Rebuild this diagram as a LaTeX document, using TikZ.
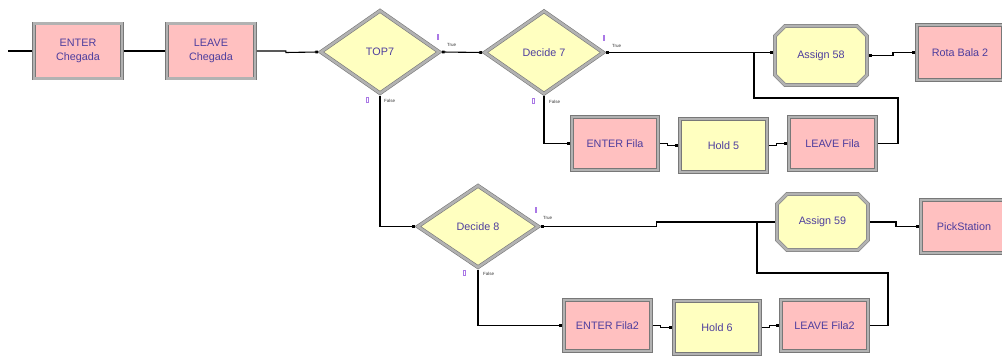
\documentclass[tikz,border=0pt]{standalone}
\usepackage{fontspec}
\setmainfont{Liberation Sans}
\usetikzlibrary{shapes.geometric,arrows.meta,calc,backgrounds}

\definecolor{modpink}{RGB}{255,192,192}
\definecolor{modyellow}{RGB}{255,255,192}
\definecolor{modtext}{RGB}{78,62,158}
\definecolor{frameband}{RGB}{178,178,178}
\definecolor{frameedge}{RGB}{120,120,120}
\definecolor{markcol}{RGB}{170,120,230}

\tikzset{
  modframe/.style={draw=frameedge, double=frameband, line width=0.6pt, double distance=2.6pt},
  modfont/.style={text=modtext, font=\fontsize{10.8}{14}\selectfont},
  module/.style={modframe, modfont, rectangle, inner sep=0pt, outer sep=1.9pt, align=center},
  pinkbox/.style={module, fill=modpink},
  yellowbox/.style={module, fill=modyellow},
  decide/.style={modframe, modfont, diamond, fill=modyellow, inner sep=0pt, outer sep=1.9pt},
  assign/.style={modfont, rectangle, inner sep=0pt, outer sep=0pt},
  link/.style={draw=black, line width=1.1pt, -{Square[length=2.8pt,width=2.8pt]}},
  dlink/.style={link, {Square[length=2.8pt,width=2.8pt]}-{Square[length=2.8pt,width=2.8pt]}},
  merge/.style={draw=black, line width=1.1pt},
  branchlbl/.style={font=\fontsize{4.5}{5}\selectfont, inner sep=0pt, text=black!80, anchor=west},
  portmark/.style={draw=markcol, line width=0.5pt, minimum width=1.6pt, minimum height=5pt, inner sep=0pt},
}

% octagonal frame of an Assign module, drawn behind its node
\newcommand\chamferframe[2]{%
  \begin{pgfonlayer}{background}
  \path[modframe, fill=#2]
    ($(#1.north west)+(12,2)$) -- ($(#1.north east)+(-12,2)$) --
    ($(#1.north east)+(-2,12)$) -- ($(#1.south east)+(-2,-12)$) --
    ($(#1.south east)+(-12,-2)$) -- ($(#1.south west)+(12,-2)$) --
    ($(#1.south west)+(2,-12)$) -- ($(#1.north west)+(2,12)$) -- cycle;
  \end{pgfonlayer}}

\begin{document}
\begin{tikzpicture}[x=1pt,y=-1pt]
\useasboundingbox (0,0) rectangle (1002,358);
\clip (0,0) rectangle (1002,358);

% ---- modules ----
\node[pinkbox, minimum width=88pt, minimum height=55pt] (EC) at (78,51) {ENTER\\Chegada};
\node[pinkbox, minimum width=88pt, minimum height=55pt] (LC) at (211,51) {LEAVE\\Chegada};
\node[decide, minimum width=120pt, minimum height=84pt] (TOP7) at (380,52) {TOP7};
\node[decide, minimum width=120pt, minimum height=84pt] (D7) at (544,52.5) {Decide 7};
\node[assign, minimum width=96pt, minimum height=63pt] (A58) at (821,55.5) {Assign 58};
\chamferframe{A58}{modyellow}
\node[pinkbox, minimum width=86pt, minimum height=55pt] (RB) at (960,52.5) {Rota Bala 2};

\node[pinkbox, minimum width=86pt, minimum height=53pt] (EF) at (615,143.5) {ENTER Fila};
\node[yellowbox, minimum width=87pt, minimum height=53pt] (H5) at (723.5,145.5) {Hold 5};
\node[pinkbox, minimum width=87pt, minimum height=53pt] (LF) at (832.5,143.5) {LEAVE Fila};

\node[decide, minimum width=122pt, minimum height=83pt] (D8) at (478,226.5) {Decide 8};
\node[assign, minimum width=95pt, minimum height=60pt] (A59) at (822.5,222) {Assign 59};
\chamferframe{A59}{modyellow}
\node[pinkbox, minimum width=86pt, minimum height=53pt] (PS) at (964,226.5) {PickStation};

\node[pinkbox, minimum width=87pt, minimum height=51pt] (EF2) at (607.5,325.5) {ENTER Fila2};
\node[yellowbox, minimum width=86pt, minimum height=53pt] (H6) at (717,327.5) {Hold 6};
\node[pinkbox, minimum width=87pt, minimum height=51pt] (LF2) at (824.5,325.5) {LEAVE Fila2};

% ---- branch labels ----
\node[portmark] (mT7t) at ([shift={(-4,-15)}]TOP7.east) {};
\node[branchlbl] (lT7t) at ([shift={(5,-7)}]TOP7.east) {True};
\node[portmark] (mT7f) at ([shift={(-13,4)}]TOP7.south) {};
\node[branchlbl] (lT7f) at ([shift={(4,5)}]TOP7.south) {False};

\node[portmark] (mD7t) at ([shift={(-2,-15)}]D7.east) {};
\node[branchlbl] (lD7t) at ([shift={(6,-7)}]D7.east) {True};
\node[portmark] (mD7f) at ([shift={(-11,4)}]D7.south) {};
\node[branchlbl] (lD7f) at ([shift={(5,5)}]D7.south) {False};

\node[portmark] (mD8t) at ([shift={(-5,-17)}]D8.east) {};
\node[branchlbl] (lD8t) at ([shift={(2,-9)}]D8.east) {True};
\node[portmark] (mD8f) at ([shift={(-14,3)}]D8.south) {};
\node[branchlbl] (lD8f) at ([shift={(5,4)}]D8.south) {False};

% ---- connectors ----
\coordinate (src) at (8,51);
\coordinate (j1) at (754,52.5);
\coordinate (r1) at (898,98);
\coordinate (j2) at (757,222);
\coordinate (r2) at (888,273);

\draw[link] (src) -- (EC.west);
\draw[link] (EC.east) -- (LC.west);
\draw[link] (LC.east) -- ++(29,0) -- ++(0,1.5) -- (TOP7.west);
\draw[dlink] (TOP7.east) -- (D7.west);
\draw[dlink] (D7.east) -- (D7.east -| A58.west);
\draw[dlink] (D7.south) |- (EF.west);
\draw[link] (EF.east) -- ++(8,0) |- (H5.west);
\draw[link] (H5.east) -- ++(8,0) |- (LF.west);
\draw[merge] (LF.east) -| (r1) -| (j1);
\draw[dlink] (A58.east) -- ++(24,0) |- (RB.west);

\draw[dlink] (TOP7.south) |- (D8.west);
\draw[dlink] (D8.east) -- ++(116,0) |- (A59.west);
\draw[dlink] (D8.south) |- (EF2.west);
\draw[link] (EF2.east) -- ++(8,0) |- (H6.west);
\draw[link] (H6.east) -- ++(8,0) |- (LF2.west);
\draw[merge] (LF2.east) -| (r2) -| (j2);
\draw[dlink] (A59.east) -- ++(26,0) |- (PS.west);
\end{tikzpicture}
\end{document}
